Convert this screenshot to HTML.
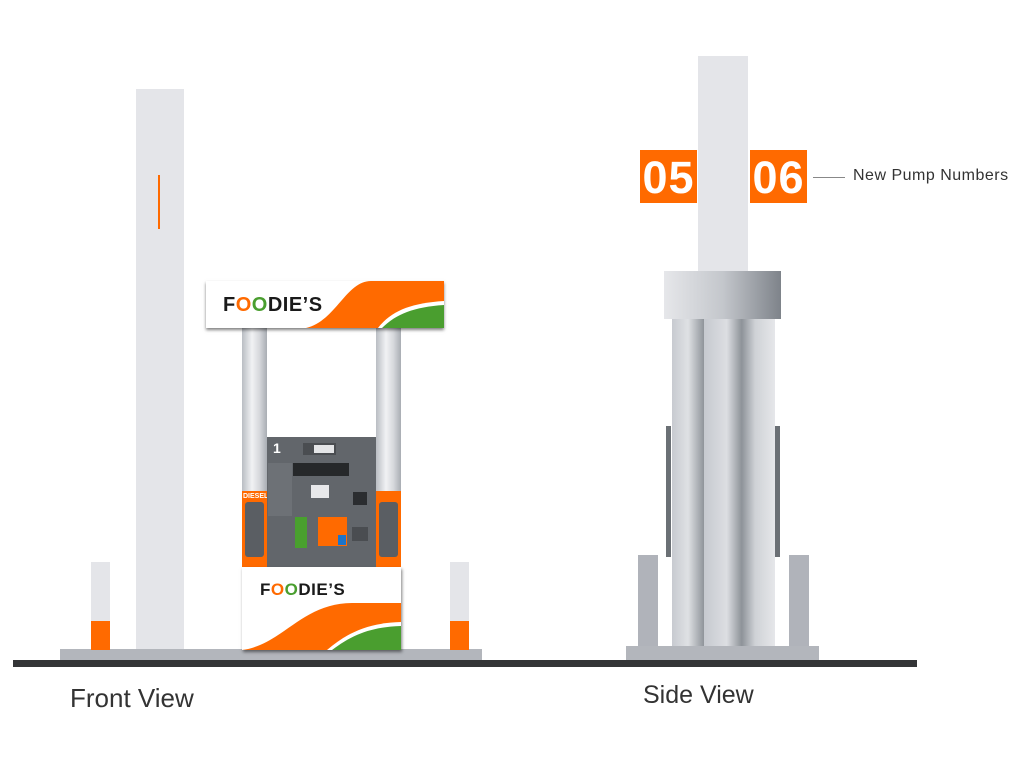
<!DOCTYPE html>
<html><head><meta charset="utf-8"><style>
body{margin:0;width:1024px;height:768px;background:#fff;position:relative;overflow:hidden;font-family:"Liberation Sans",sans-serif}
div{position:absolute}
.lg{background:#e4e5e9}
.logo{font-weight:bold;color:#1a1a1a;letter-spacing:0.5px;white-space:nowrap}
.col{background:linear-gradient(90deg,#b9bdc3,#f1f2f4 40%,#d6d8dc 70%,#a9adb3)}
.num{background:#ff6a00;color:#fff;font-weight:bold;font-size:45px;line-height:55px;text-align:center;overflow:hidden;letter-spacing:1px}
</style></head><body>
<div style="left:13px;top:660px;width:904px;height:7px;background:#343537"></div>
<div style="left:60px;top:649px;width:422px;height:11px;background:#b3b6bc"></div>
<div class="lg" style="left:136px;top:89px;width:48px;height:560px"></div>
<div style="left:158px;top:175px;width:2px;height:54px;background:#ff6a00"></div>
<div class="lg" style="left:91px;top:562px;width:19px;height:59px"></div>
<div style="left:91px;top:621px;width:19px;height:29px;background:#ff6a00"></div>
<div class="lg" style="left:450px;top:562px;width:19px;height:59px"></div>
<div style="left:450px;top:621px;width:19px;height:29px;background:#ff6a00"></div>
<div class="col" style="left:242px;top:327px;width:25px;height:170px"></div>
<div class="col" style="left:376px;top:327px;width:25px;height:170px"></div>
<div style="left:242px;top:491px;width:25px;height:76px;background:#ff6a00"></div>
<div style="left:245px;top:502px;width:19px;height:55px;background:#5a5e63;border-radius:3px"></div>
<div style="left:376px;top:491px;width:25px;height:76px;background:#ff6a00"></div>
<div style="left:379px;top:502px;width:19px;height:55px;background:#5a5e63;border-radius:3px"></div>
<div style="left:243px;top:493px;font-size:7px;color:#fff;font-weight:bold">DIESEL</div>
<div style="left:267px;top:437px;width:109px;height:130px;background:#62666b"></div>
<div style="left:273px;top:440px;color:#fff;font-weight:bold;font-size:14px">1</div>
<div style="left:303px;top:443px;width:33px;height:12px;background:#4a4d51"></div>
<div style="left:314px;top:445px;width:20px;height:8px;background:#e4e5e7"></div>
<div style="left:293px;top:463px;width:56px;height:13px;background:#26282a"></div>
<div style="left:268px;top:463px;width:24px;height:53px;background:#6d7176"></div>
<div style="left:311px;top:485px;width:18px;height:13px;background:#e7e8ea"></div>
<div style="left:353px;top:492px;width:14px;height:13px;background:#2b2d30"></div>
<div style="left:295px;top:517px;width:12px;height:31px;background:#49a02e"></div>
<div style="left:318px;top:517px;width:29px;height:29px;background:#ff6a00"></div>
<div style="left:338px;top:535px;width:8px;height:10px;background:#1d74c8"></div>
<div style="left:352px;top:527px;width:16px;height:14px;background:#4a4d51"></div>
<svg style="position:absolute;left:206px;top:281px" width="238" height="47" viewBox="0 0 238 47">
<rect width="238" height="47" fill="#fff"/>
<path d="M100 47 C130 40 140 0 165 0 L238 0 L238 47 Z" fill="#ff6a00"/>
<path d="M172 47 C185 30 205 22 238 20 L238 47 Z" fill="#fff"/>
<path d="M176 47 C190 33 208 26 238 24 L238 47 Z" fill="#4a9e2f"/>
</svg>
<div style="left:206px;top:281px;width:238px;height:47px;box-shadow:0 2px 3px rgba(0,0,0,.5)"></div>
<div class="logo" style="left:223px;top:294px;font-size:20px">F<span style="color:#ff6a00">O</span><span style="color:#4a9e2f">O</span>DIE’S</div>
<svg style="position:absolute;left:242px;top:567px" width="159" height="83" viewBox="0 0 159 83">
<rect width="159" height="83" fill="#fff"/>
<path d="M0 83 C40 78 60 36 110 36 L159 36 L159 83 Z" fill="#ff6a00"/>
<path d="M85 83 C105 66 125 56 159 55 L159 83 Z" fill="#fff"/>
<path d="M90 83 C110 68 128 60 159 59 L159 83 Z" fill="#4a9e2f"/>
</svg>
<div style="left:242px;top:567px;width:159px;height:83px;box-shadow:1px 2px 3px rgba(0,0,0,.5)"></div>
<div class="logo" style="left:260px;top:580px;font-size:17px">F<span style="color:#ff6a00">O</span><span style="color:#4a9e2f">O</span>DIE’S</div>
<div style="left:70px;top:683px;font-size:26px;color:#333">Front View</div>
<div style="left:626px;top:646px;width:193px;height:14px;background:#b3b6bc"></div>
<div style="left:638px;top:555px;width:20px;height:91px;background:#b0b3ba"></div>
<div style="left:789px;top:555px;width:20px;height:91px;background:#b0b3ba"></div>
<div style="left:666px;top:426px;width:5px;height:131px;background:#6b7075"></div>
<div style="left:775px;top:426px;width:5px;height:131px;background:#6b7075"></div>
<div style="left:672px;top:318px;width:32px;height:328px;background:linear-gradient(90deg,#c7cad0,#dfe1e4 50%,#8f949a)"></div>
<div style="left:704px;top:318px;width:38px;height:328px;background:linear-gradient(90deg,#c6c9cf,#dcdee2 60%,#8c9197)"></div>
<div style="left:742px;top:318px;width:33px;height:328px;background:linear-gradient(90deg,#8f949a,#cfd2d6 40%,#e6e7ea)"></div>
<div class="lg" style="left:698px;top:56px;width:50px;height:216px"></div>
<div style="left:664px;top:271px;width:117px;height:48px;background:linear-gradient(90deg,#e6e7ea,#c4c7cc 50%,#7e838a)"></div>
<div class="num" style="left:640px;top:150px;width:57px;height:53px">05</div>
<div class="num" style="left:750px;top:150px;width:57px;height:53px">06</div>
<div style="left:813px;top:177px;width:32px;height:1px;background:#888"></div>
<div style="left:853px;top:167px;font-size:16px;color:#333;letter-spacing:0.5px">New Pump Numbers</div>
<div style="left:643px;top:681px;font-size:25px;color:#333">Side View</div>
</body></html>
